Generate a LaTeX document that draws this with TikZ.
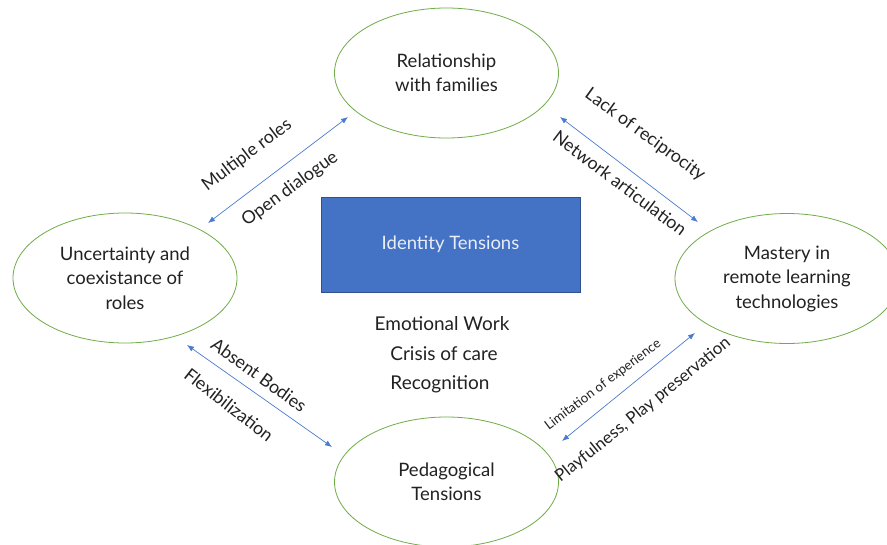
\documentclass[tikz,border=0pt]{standalone}
\usepackage{fontspec}
\setmainfont{Lato}
\usetikzlibrary{shapes.geometric,arrows.meta}
\definecolor{ringgreen}{HTML}{70AD47}
\definecolor{boxblue}{HTML}{4472C4}
\definecolor{boxedge}{HTML}{2F528F}
\definecolor{arrblue}{HTML}{4A7BD0}
\definecolor{ink}{HTML}{222222}
\tikzset{
  ring/.style={ellipse, draw=ringgreen, line width=0.8pt, minimum width=224pt, minimum height=130pt, inner sep=0pt, align=center, text=ink, font=\fontsize{18.5}{24.5}\selectfont},
  tbox/.style={draw=boxedge, fill=boxblue, line width=0.6pt, minimum width=259pt, minimum height=95pt, inner sep=0pt, text=white!88!boxblue, font=\fontsize{18.5}{21}\selectfont},
  conn/.style={arrblue, line width=0.7pt, {Latex[length=7pt,width=5.5pt]}-{Latex[length=7pt,width=5.5pt]}},
  lbl/.style={inner sep=0pt, text=ink, font=\fontsize{17.8}{20}\selectfont},
  lblmid/.style={inner sep=0pt, text=ink, font=\fontsize{16.9}{19}\selectfont},
  lblsmall/.style={inner sep=0pt, text=ink, font=\fontsize{13.3}{15}\selectfont},
  plain/.style={inner sep=0pt, text=ink, font=\fontsize{19}{21}\selectfont}
}
\begin{document}
\begin{tikzpicture}[x=1pt,y=-1pt]
\useasboundingbox (0,0) rectangle (887,544);
\fill[white] (0,0) rectangle (887,544);
% ellipses
\node[ring] (T) at (446.5,73) {Relationship\\with families};
\node[ring] (L) at (125,278) {Uncertainty and\\coexistance of\\roles};
\node[ring] (R) at (787,278.5) {Mastery in\\remote learning\\technologies};
\node[ring] (B) at (446.5,482) {Pedagogical\\Tensions};
% centre box
\node[tbox] (box) at (450.5,244.5) {Identity Tensions};
% centre texts
\node[plain] (ew) at (442,324) {Emotional Work};
\node[plain] (cc) at (444,354) {Crisis of care};
\node[plain] (rc) at (440,384) {Recognition};
% arrow end points
\coordinate (a1s) at (208,223); \coordinate (a1e) at (348,117);
\coordinate (a2s) at (560,117); \coordinate (a2e) at (698,222);
\coordinate (a3s) at (187,345); \coordinate (a3e) at (332,447);
\coordinate (a4s) at (562,441); \coordinate (a4e) at (695,333);
\draw[conn] (a1s) -- (a1e);
\draw[conn] (a2s) -- (a2e);
\draw[conn] (a3s) -- (a3e);
\draw[conn] (a4s) -- (a4e);
% labels
\node[lbl, rotate=37] (m1) at (247,155) {Multiple roles};
\node[lbl, rotate=36] (m2) at (290,189) {Open dialogue};
\node[lbl, rotate=-36] (m3) at (645,135) {Lack of reciprocity};
\node[lbl, rotate=-37] (m4) at (620,183) {Network articulation};
\node[lbl, rotate=-36] (m5) at (259,375) {Absent Bodies};
\node[lbl, rotate=-38] (m6) at (229,405) {Flexibilization};
\node[lblsmall, rotate=37] (m7) at (603,385) {Limitation of experience};
\node[lblmid, rotate=39] (m8) at (643,410) {Playfulness, Play preservation};
\end{tikzpicture}
\end{document}
